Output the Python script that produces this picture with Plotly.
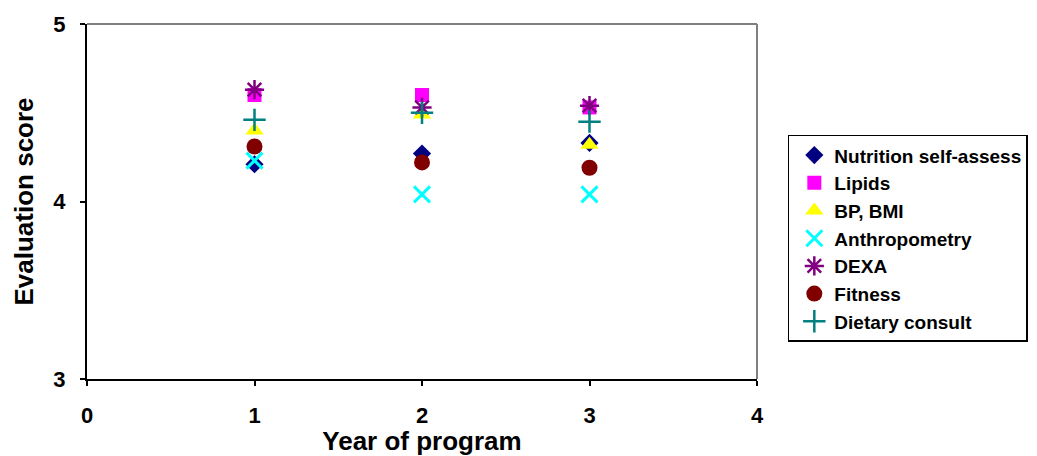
import plotly.graph_objects as go

years = [1, 2, 3]
nutrition = [4.21, 4.27, 4.33]
lipids = [4.60, 4.60, 4.53]
bp_bmi = [4.40, 4.49, 4.32]
anthropometry = [4.23, 4.04, 4.04]
dexa = [4.63, 4.53, 4.54]
fitness = [4.31, 4.22, 4.19]
dietary = [4.46, 4.50, 4.45]

x_ticks = [0, 1, 2, 3, 4]
y_ticks = [3, 4, 5]

series = [
    ("Nutrition self-assess", nutrition, "diamond", "#000080", 14, 0),
    ("Lipids", lipids, "square", "#FF00FF", 14, 0),
    ("BP, BMI", bp_bmi, "triangle-up", "#FFFF00", 16, 0),
    ("Anthropometry", anthropometry, "x-thin-open", "#00FFFF", 16, 3),
    ("DEXA", dexa, "asterisk-open", "#800080", 16, 2.5),
    ("Fitness", fitness, "circle", "#800000", 16, 0),
    ("Dietary consult", dietary, "cross-thin-open", "#008080", 16, 2.5),
]

fig = go.Figure()
for name, vals, sym, col, sz, lw in series:
    marker = dict(symbol=sym, color=col, size=sz)
    if lw:
        marker["line"] = dict(color=col, width=lw)
    else:
        marker["line"] = dict(width=0)
    fig.add_trace(go.Scatter(x=years, y=vals, mode="markers",
                             name=name, marker=marker))

font_family = "Liberation Sans"
fig.update_layout(
    width=1029, height=448,
    margin=dict(l=79, r=280, t=16, b=77, autoexpand=False),
    plot_bgcolor="white", paper_bgcolor="white",
    font=dict(family=font_family, color="black", size=20, weight=700),
    showlegend=True,
    legend=dict(
        x=1.046, y=0.688, xanchor="left", yanchor="top",
        bordercolor="black", borderwidth=1.5,
        font=dict(family=font_family, size=19, color="black", weight=700),
        tracegroupgap=0, itemwidth=30, indentation=5,
    ),
    xaxis=dict(
        range=[0, 4], tickvals=x_ticks,
        showgrid=False, zeroline=False,
        showline=True, linecolor="black", linewidth=2,
        ticks="outside", ticklen=5, tickwidth=2, tickcolor="black",
        tickfont=dict(family=font_family, size=22, weight=700), ticklabelstandoff=11,
        title=dict(text="Year of program",
                   font=dict(family=font_family, size=26, weight=700), standoff=0),
    ),
    yaxis=dict(
        range=[3, 5], tickvals=y_ticks,
        showgrid=False, zeroline=False,
        showline=True, linecolor="black", linewidth=2,
        ticks="outside", ticklen=5, tickwidth=2, tickcolor="black",
        tickfont=dict(family=font_family, size=22, weight=700), ticklabelstandoff=10,
        title=dict(text="Evaluation score",
                   font=dict(family=font_family, size=26, weight=700), standoff=12),
    ),
    shapes=[
        dict(type="line", xref="paper", yref="paper", x0=0, x1=1, y0=1, y1=1,
             line=dict(color="#808080", width=2)),
        dict(type="line", xref="paper", yref="paper", x0=1, x1=1, y0=0, y1=1,
             line=dict(color="#808080", width=2)),
    ],
)

fig.write_html("out.html")
